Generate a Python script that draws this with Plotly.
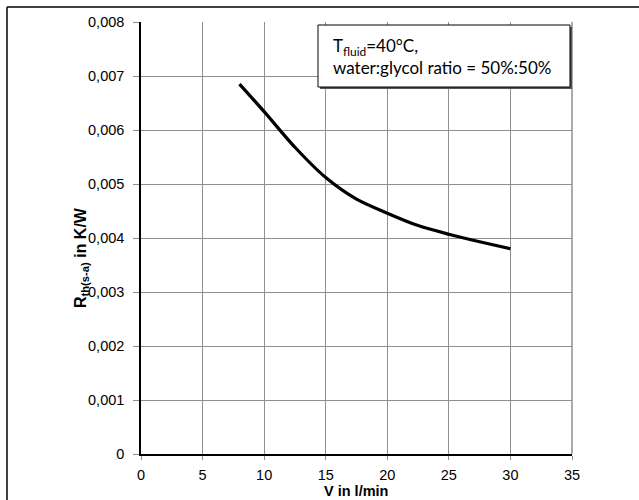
import plotly.graph_objects as go

# Data
flow_lpm = [8, 10, 12.5, 15, 17.5, 20, 22.5, 25, 27.5, 30]
rth_kw = [0.00685, 0.00634, 0.00568, 0.00512, 0.00472, 0.00446, 0.00423, 0.00407, 0.00393, 0.00380]

x_ticks = [0, 5, 10, 15, 20, 25, 30, 35]
y_ticks = [0, 0.001, 0.002, 0.003, 0.004, 0.005, 0.006, 0.007, 0.008]
y_tick_text = ["0", "0,001", "0,002", "0,003", "0,004", "0,005", "0,006", "0,007", "0,008"]

W, H = 639, 500
L, R, T, B = 141, 67, 22, 46
pw, ph = W - L - R, H - T - B

def px(xp):
    return (xp - L) / pw

def py(yp):
    return (H - B - yp) / ph

fig = go.Figure()
fig.add_trace(go.Scatter(
    x=flow_lpm, y=rth_kw, mode="lines",
    line=dict(color="black", width=3.2, shape="spline", smoothing=0.8),
    showlegend=False, hoverinfo="skip",
))

axis_font = dict(family="Liberation Sans, Arial", size=14.5, color="black")
grid = "#8f8f8f"

fig.update_layout(
    width=W, height=H,
    margin=dict(l=L, r=R, t=T, b=B, pad=0),
    paper_bgcolor="white", plot_bgcolor="white",
    xaxis=dict(
        range=[0, 35], tickvals=x_ticks, ticktext=[str(v) for v in x_ticks],
        showgrid=True, gridcolor=grid, gridwidth=1,
        showline=True, linecolor="black", linewidth=1.5,
        ticks="outside", ticklen=4, tickcolor=grid,
        tickfont=axis_font, zeroline=False, ticklabelstandoff=3,
        fixedrange=True,
    ),
    yaxis=dict(
        range=[0, 0.008], tickvals=y_ticks, ticktext=y_tick_text,
        showgrid=True, gridcolor=grid, gridwidth=1,
        showline=True, linecolor="black", linewidth=1.5,
        ticks="outside", ticklen=6, tickcolor=grid,
        tickfont=axis_font, zeroline=False, ticklabelstandoff=6,
        fixedrange=True,
    ),
    shapes=[
        # outer frame (left and top edges visible)
        dict(type="line", xref="paper", yref="paper", x0=px(7), x1=px(7), y0=py(7), y1=py(520),
             line=dict(color="black", width=1.5)),
        dict(type="line", xref="paper", yref="paper", x0=px(7), x1=px(660), y0=py(7), y1=py(7),
             line=dict(color="black", width=1.5)),
        # right edge of plot area
        dict(type="line", xref="paper", yref="paper", x0=1, x1=1, y0=0, y1=1,
             line=dict(color=grid, width=1.5)),
        # note box shadow
        dict(type="rect", xref="paper", yref="paper", x0=px(320), x1=px(572), y0=py(89), y1=py(27),
             fillcolor="#555555", line=dict(width=0)),
        # note box
        dict(type="rect", xref="paper", yref="paper", x0=px(318), x1=px(570), y0=py(87), y1=py(25),
             fillcolor="white", line=dict(color="black", width=1)),
    ],
    annotations=[
        dict(xref="paper", yref="paper", x=px(331), y=py(57), xanchor="left", yanchor="middle",
             text="T<sub>fluid</sub>=40°C,<br>water:glycol ratio = 50%:50%",
             align="left", showarrow=False,
             font=dict(family="Lato", size=17, color="black")),
        # x-axis title
        dict(xref="paper", yref="paper", x=px(356), y=py(491), xanchor="center", yanchor="middle",
             text="<b>V in l/min</b>", showarrow=False,
             font=dict(family="Liberation Sans, Arial", size=14.5, color="black")),
        # y-axis title
        dict(xref="paper", yref="paper", x=px(81), y=py(258), xanchor="center", yanchor="middle",
             text="<b>R<sub>th(s-a)</sub> in K/W</b>", textangle=-90, showarrow=False,
             font=dict(family="Liberation Sans, Arial", size=16, color="black")),
    ],
)

fig.write_html("out.html", config={"displayModeBar": False},
               post_script="document.body.style.margin='0px';document.body.style.overflow='hidden';")
